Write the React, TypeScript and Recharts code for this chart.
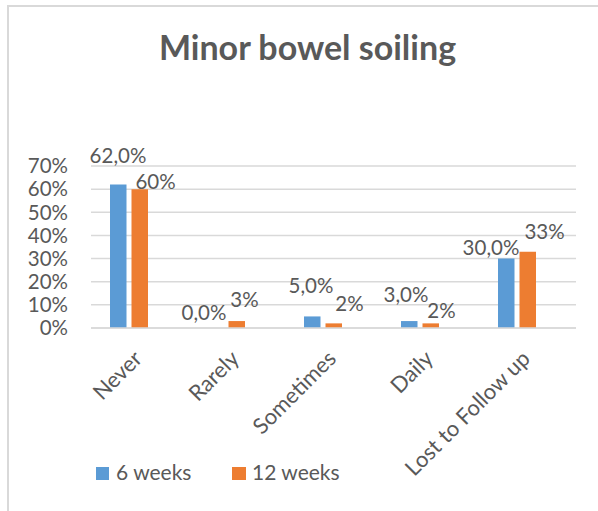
import React from 'react';
import { ComposedChart, Bar, Line, XAxis, YAxis, CartesianGrid, LabelList, Legend } from 'recharts';

const categories = ['Never', 'Rarely', 'Sometimes', 'Daily', 'Lost to Follow up'];
const sixWeeks = [62, 0, 5, 3, 30];
const twelveWeeks = [60, 3, 2, 2, 33];
const yTicks = [0, 10, 20, 30, 40, 50, 60, 70];
const seriesNames = ['6 weeks', '12 weeks'];

const data = categories.map((c, i) => ({ name: c, w6: sixWeeks[i], w12: twelveWeeks[i] }));

const BLUE = '#5B9BD5';
const ORANGE = '#ED7D31';
const TEXT = '#595959';
const GRID = '#D9D9D9';
const FONT = 'Lato, "Open Sans", sans-serif';
const FS = 20.5;

// offset of each series' bar centre from the category centre (3 bar slots of 16.5px with 5px gaps)
const BLUE_BAR_OFFSET = -21.5;
const ORANGE_BAR_OFFSET = 0;
// label placement tweaks (dx from bar centre, dy of baseline from bar top), mimicking Excel's label collision avoidance
const blueLabelShift = [[0, -21.5], [-11, -8], [-1, -23], [-3, -19], [-15, -3.6]];
const orangeLabelShift = [[16, 0], [8, -13.6], [16, -12.7], [11, -5], [17, -12.6]];

const makeLabel = (barOffset: number, shift: number[][], fmt: (v: number) => string) => (props: any) => {
  const { x, y, value, index } = props;
  const [dx, dy] = shift[index] || [0, -6];
  return (
    <text x={x + barOffset + dx} y={y + dy} textAnchor="middle" fill={TEXT} fontSize={FS} fontFamily={FONT}>
      {fmt(value)}
    </text>
  );
};

const XTick = (props: any) => {
  const { x, payload } = props;
  const ax = x + 4;
  const ay = 328 + 32;
  return (
    <text x={ax} y={ay} textAnchor="end" transform={`rotate(-45, ${ax}, ${ay})`} fill={TEXT} fontSize={22} fontFamily={FONT}>
      {payload.value}
    </text>
  );
};

const LegendContent = () => (
  <div style={{ position: 'relative', width: 400, height: 40, fontFamily: FONT, fontSize: 21, color: TEXT }}>
    <div style={{ position: 'absolute', left: 96, top: 8, width: 13, height: 13, background: BLUE }} />
    <span style={{ position: 'absolute', left: 116, top: 0, lineHeight: '25px', whiteSpace: 'nowrap' }}>{seriesNames[0]}</span>
    <div style={{ position: 'absolute', left: 232, top: 8, width: 14, height: 13, background: ORANGE }} />
    <span style={{ position: 'absolute', left: 252, top: 0, lineHeight: '25px', whiteSpace: 'nowrap' }}>{seriesNames[1]}</span>
  </div>
);

export default function App() {
  return (
    <div style={{ position: 'absolute', left: 0, top: 0, width: 598, height: 511, background: '#fff', overflow: 'hidden' }}>
      <div style={{ position: 'absolute', left: 7, top: 5, width: 640, height: 560, borderLeft: `2px solid ${GRID}`, borderTop: `2px solid ${GRID}` }} />
      <div style={{ position: 'absolute', left: 17, top: 26, width: 581, textAlign: 'center', fontFamily: FONT, fontWeight: 700, fontSize: 34, lineHeight: '41px', color: TEXT }}>
        Minor bowel soiling
      </div>
      <div style={{ position: 'absolute', left: 0, top: 0 }}>
        <ComposedChart width={598} height={511} data={data} margin={{ top: 166, right: 22, bottom: 0, left: 0 }} barSize={16.5} barGap={5}>
          <CartesianGrid vertical={false} stroke={GRID} strokeWidth={1.5} />
          <XAxis dataKey="name" height={183} interval={0} tickLine={false} axisLine={{ stroke: GRID, strokeWidth: 1.5 }} tick={<XTick />} />
          <YAxis width={91} domain={[0, 70]} ticks={yTicks} interval={0} tickFormatter={(v: number) => `${v}%`} axisLine={false} tickLine={false} tickSize={0} tickMargin={23} tick={{ fill: TEXT, fontSize: FS, fontFamily: FONT }} />
          <Legend layout="horizontal" verticalAlign="middle" align="center" wrapperStyle={{ position: 'absolute', left: 0, top: 459, width: 400, height: 40 }} content={<LegendContent />} />
          <Bar dataKey="w6" name={seriesNames[0]} fill={BLUE} isAnimationActive={false} />
          <Bar dataKey="w12" name={seriesNames[1]} fill={ORANGE} isAnimationActive={false} />
          <Bar dataKey="empty" legendType="none" fill="transparent" isAnimationActive={false} />
          <Line dataKey="w6" stroke="none" dot={false} activeDot={false} legendType="none" isAnimationActive={false}>
            <LabelList dataKey="w6" content={makeLabel(BLUE_BAR_OFFSET, blueLabelShift, (v) => `${v.toFixed(1).replace('.', ',')}%`)} />
          </Line>
          <Line dataKey="w12" stroke="none" dot={false} activeDot={false} legendType="none" isAnimationActive={false}>
            <LabelList dataKey="w12" content={makeLabel(ORANGE_BAR_OFFSET, orangeLabelShift, (v) => `${v}%`)} />
          </Line>
        </ComposedChart>
      </div>
    </div>
  );
}
